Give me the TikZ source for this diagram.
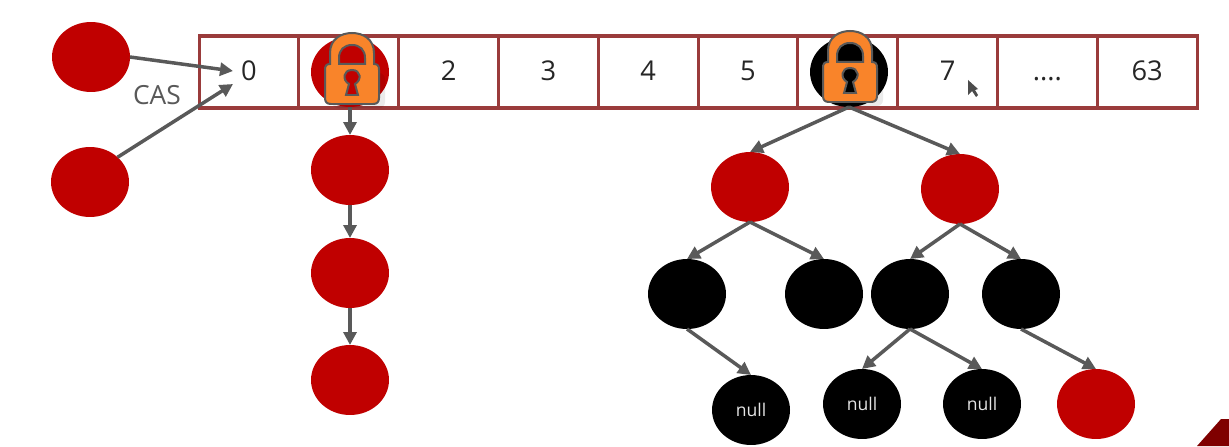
\documentclass[tikz,border=0pt]{standalone}
\usepackage{fontspec}
\setmainfont{Open Sans}
\usepackage{xcolor}
\usetikzlibrary{arrows.meta,shapes.geometric}
\definecolor{cellred}{HTML}{9A3B3B}
\definecolor{ballred}{HTML}{C00000}
\definecolor{linegray}{HTML}{595959}
\definecolor{lockorange}{HTML}{F9842A}
\definecolor{cornerred}{HTML}{7F0000}
\newcommand{\binrest}{....}
\tikzset{
  cellbox/.style={draw=cellred,line width=0.062cm,minimum width=1.996cm,minimum height=1.44cm,inner sep=0pt,outer sep=0pt,text=black!85,font=\fontsize{15.5}{18}\selectfont,text height=0.35cm,text depth=0pt},
  redball/.style={ellipse,fill=ballred,minimum width=1.56cm,minimum height=1.4cm,inner sep=0pt,outer sep=0pt},
  blackball/.style={ellipse,fill=black,minimum width=1.56cm,minimum height=1.4cm,inner sep=0pt,outer sep=0pt,text=white!90!black,font=\fontsize{10}{12}\selectfont},
  link/.style={-{Triangle[length=0.26cm,width=0.26cm]},draw=linegray,line width=0.07cm},
  pics/lockicon/.style={code={
    \fill[black,opacity=0.08,rounded corners=0.12cm] (-20,40) rectangle (33,75);
    \draw[linegray,fill=lockorange,line width=0.04cm,even odd rule] (-22,31) -- (-22,20) .. controls (-22,6) and (-11,0) .. (0,0) .. controls (11,0) and (22,6) .. (22,20) -- (22,31) .. controls (26,31) and (27,33) .. (27,37) -- (27,65) .. controls (27,69) and (25,71) .. (21,71) -- (-21,71) .. controls (-25,71) and (-27,69) .. (-27,65) -- (-27,37) .. controls (-27,33) and (-26,31) .. (-22,31) -- cycle
      (-13,31) -- (-13,25) .. controls (-13,17) and (-8,12) .. (0,12) .. controls (8,12) and (13,17) .. (13,25) -- (13,31) -- cycle;
    \draw[linegray,fill=#1,line width=0.04cm] (-3,51) -- (-6,62) -- (6,62) -- (3,51) .. controls (10,47) and (9,37) .. (0,37) .. controls (-9,37) and (-10,47) .. (-3,51) -- cycle;
  }},
}
\begin{document}
\begin{tikzpicture}[x=0.02cm,y=-0.02cm]
\useasboundingbox (0,0) rectangle (1229,446);
\fill[white] (0,0) rectangle (1229,446);
% array of bins
\foreach \idx/\lab in {0/0,1/{},2/2,3/3,4/4,5/5,6/{},7/7,8/\binrest,9/63}
  \node[cellbox] (cell\idx) at ({249+99.8*\idx},72) {\lab};
% threads racing for bin 0
\node[redball] (threadA) at (91,57) {};
\node[redball] (threadB) at (90,182) {};
\coordinate (casA) at (233,71);
\coordinate (casB) at (233,84);
\draw[link] (threadA.east) -- (casA);
\draw[link] (threadB.north east) -- (casB);
\node[text=linegray,font=\fontsize{15}{18}\selectfont] (caslabel) at (157,95) {CAS};
% linked list
\node[redball] (head) at (350,72) {};
\node[redball] (listA) at (350,170) {};
\node[redball] (listB) at (350,273) {};
\node[redball] (listC) at (350,380) {};
\draw[link] (head) -- (listA);
\draw[link] (listA) -- (listB);
\draw[link] (listB) -- (listC);
% red-black tree
\node[blackball] (root) at (849,72) {};
\node[redball] (treeL) at (750,187) {};
\node[redball] (treeR) at (960,189) {};
\node[blackball] (treeLL) at (687,294) {};
\node[blackball] (treeLR) at (824,294) {};
\node[blackball] (treeRL) at (910,294) {};
\node[blackball] (treeRR) at (1021,294) {};
\node[blackball] (nullA) at (751,410) {null};
\node[blackball] (nullB) at (862,404) {null};
\node[blackball] (nullC) at (982,404) {null};
\node[redball] (leaf) at (1096,404) {};
\draw[link] (root.south) -- (treeL.north);
\draw[link] (root.south) -- (treeR.north);
\draw[link] (treeL.south) -- (treeLL.north);
\draw[link] (treeL.south) -- (treeLR.north);
\draw[link] (treeR.south) -- (treeRL.north);
\draw[link] (treeR.south) -- (treeRR.north);
\draw[link] (treeLL.south) -- (nullA.north);
\draw[link] (treeRL.south) -- (nullB.north);
\draw[link] (treeRL.south) -- (nullC.north);
\draw[link] (treeRR.south) -- (leaf.north);
% locks
\pic (lockA) at (352,33) {lockicon=ballred};
\pic (lockB) at (850,31) {lockicon=black};
% pointer and corner
\fill[black!70] (968,80) -- (968,95) -- (972,91) -- (976,97) -- (978,95) -- (975,90) -- (978,89) -- cycle;
\fill[cornerred] (1197,446) -- (1221,419) -- (1229,419) -- (1229,446) -- cycle;
\end{tikzpicture}
\end{document}
